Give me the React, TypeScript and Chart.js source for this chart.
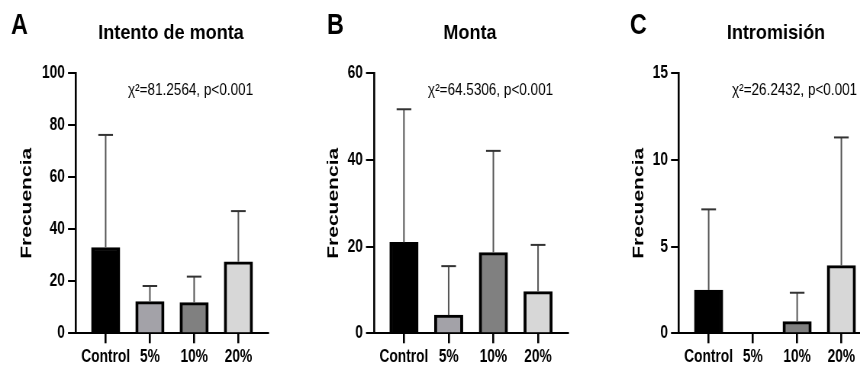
import React, { useEffect, useRef } from 'react';
import { Chart, registerables } from 'chart.js';

Chart.register(...registerables);

// ---------- data ----------
const categories = ['Control', '5%', '10%', '20%'];
const barColors = ['#000000', '#a3a2a8', '#808080', '#d7d7d7'];

const panelLetters = ['A', 'B', 'C'];
const panelTitles = ['Intento de monta', 'Monta', 'Intromisión'];
const statLabels = ['χ²=81.2564, p<0.001', 'χ²=64.5306, p<0.001', 'χ²=26.2432, p<0.001'];
const yAxisTitle = 'Frecuencia';

const intentoMeans = [33, 12.2, 11.8, 27.5];
const intentoSD = [43.3, 6, 10, 19.5];
const montaMeans = [21, 4.2, 18.6, 9.6];
const montaSD = [30.7, 11.3, 23.5, 10.8];
const intromisionMeans = [2.5, 0, 0.67, 3.9];
const intromisionSD = [4.65, 0, 1.67, 7.4];

const yMaxes = [100, 60, 15];
const yStepSizes = [20, 20, 5];

const meansList = [intentoMeans, montaMeans, intromisionMeans];
const sdList = [intentoSD, montaSD, intromisionSD];

// ---------- layout (screen px) ----------
const S = 0.763; // horizontal compression of the figure
const H = 368;
const AXIS_TOP = 73.3;
const AXIS_BOTTOM = 333.3;
const FONT = "'Liberation Sans', Arial, sans-serif";

const panels = [
  { off: 0, canvasW: 380, axisL: 76, axisR: 268, letterX: 11, titleX: 171, statX: 128, yTitleX: 27 },
  { off: 290, canvasW: 380, axisL: 374, axisR: 568, letterX: 327, titleX: 470, statX: 428, yTitleX: 334 },
  { off: 580, canvasW: 400, axisL: 679, axisR: 871, letterX: 630, titleX: 776, statX: 732, yTitleX: 639 },
];

Chart.defaults.font.family = FONT;

function drawText(ctx: CanvasRenderingContext2D, text: string, x: number, y: number, font: string, sx: number, align: CanvasTextAlign) {
  ctx.save();
  ctx.translate(x, y);
  ctx.scale(sx, 1);
  ctx.font = font;
  ctx.textAlign = align;
  ctx.textBaseline = 'alphabetic';
  ctx.fillStyle = '#000';
  ctx.fillText(text, 0, 0);
  ctx.restore();
}

const errorBarPlugin = {
  id: 'errorBars',
  afterDatasetsDraw(chart: any, _args: any, opts: any) {
    const ctx = chart.ctx as CanvasRenderingContext2D;
    const yScale = chart.scales.y;
    const sds: number[] = opts.sd || [];
    chart.data.datasets.forEach((ds: any, di: number) => {
      const meta = chart.getDatasetMeta(di);
      meta.data.forEach((el: any, i: number) => {
        const sd = sds[i];
        const v = ds.data[i].y;
        if (!sd) return;
        const yTop = yScale.getPixelForValue(v + sd);
        const yBase = yScale.getPixelForValue(v);
        ctx.save();
        ctx.strokeStyle = '#555';
        ctx.lineWidth = 2;
        ctx.beginPath();
        ctx.moveTo(el.x, yBase);
        ctx.lineTo(el.x, yTop);
        ctx.stroke();
        ctx.strokeStyle = '#333';
        ctx.lineWidth = 2;
        ctx.beginPath();
        ctx.moveTo(el.x - 9.6, yTop);
        ctx.lineTo(el.x + 9.6, yTop);
        ctx.stroke();
        ctx.restore();
      });
    });
  },
};

const annotationPlugin = {
  id: 'panelText',
  afterDraw(chart: any, _args: any, opts: any) {
    const ctx = chart.ctx as CanvasRenderingContext2D;
    const L = panels[opts.idx];
    const toI = (sx: number) => (sx - L.off) / S;
    drawText(ctx, panelLetters[opts.idx], toI(L.letterX), 33.5, `bold 29px ${FONT}`, 0.8 / S, 'left');
    drawText(ctx, panelTitles[opts.idx], toI(L.titleX), 39, `bold 21px ${FONT}`, 0.86 / S, 'center');
    drawText(ctx, statLabels[opts.idx], toI(L.statX), 94.5, `16px ${FONT}`, 0.845 / S, 'left');
  },
};

function makeConfig(idx: number): any {
  const L = panels[idx];
  const toI = (sx: number) => (sx - L.off) / S;
  const axisLeftI = toI(L.axisL);
  const axisRightI = toI(L.axisR);
  const means = meansList[idx];
  return {
    type: 'bar',
    data: {
      datasets: [
        {
          data: means.map((v, i) => ({ x: i, y: v })),
          backgroundColor: barColors,
          borderColor: '#000',
          borderWidth: { top: 3, left: 3.9, right: 3.9, bottom: 0 },
          borderSkipped: 'start',
          barThickness: 37.4,
        },
      ],
    },
    options: {
      animation: false,
      responsive: false,
      devicePixelRatio: 1,
      events: [],
      layout: { padding: { left: 0, right: L.canvasW - axisRightI, top: AXIS_TOP, bottom: 0 } },
      plugins: {
        legend: { display: false },
        tooltip: { enabled: false },
        title: { display: false },
        errorBars: { sd: sdList[idx] },
        panelText: { idx },
      },
      scales: {
        x: {
          type: 'linear',
          position: 'bottom',
          min: -0.67,
          max: 3.67,
          offset: false,
          z: 1,
          afterBuildTicks: (scale: any) => {
            scale.ticks = categories.map((_, i) => ({ value: i }));
          },
          afterFit: (scale: any) => {
            scale.height = H - AXIS_BOTTOM;
          },
          grid: { offset: false, drawOnChartArea: false, drawTicks: true, tickLength: 10, color: '#000', lineWidth: 2.6 },
          border: { display: true, color: '#000', width: 2 },
          ticks: {
            callback: (v: number) => categories[v] ?? '',
            color: '#000',
            font: { size: 18, weight: 'bold' },
            padding: 3,
            maxRotation: 0,
            autoSkip: false,
          },
        },
        y: {
          min: 0,
          max: yMaxes[idx],
          z: 1,
          afterFit: (scale: any) => {
            scale.width = axisLeftI;
          },
          grid: { drawOnChartArea: false, drawTicks: true, tickLength: 10.5, color: '#000', lineWidth: 2 },
          border: { display: true, color: '#000', width: 2.6 },
          ticks: {
            stepSize: yStepSizes[idx],
            color: '#000',
            font: { size: 18, weight: 'bold' },
            padding: 4,
          },
          title: {
            display: true,
            text: yAxisTitle,
            color: '#000',
            font: { size: 21, weight: 'bold' },
            padding: { top: toI(L.yTitleX) - 12.6, bottom: 0 },
          },
        },
      },
    },
    plugins: [errorBarPlugin, annotationPlugin],
  };
}

function Panel({ idx }: { idx: number }) {
  const ref = useRef<HTMLCanvasElement>(null);
  const L = panels[idx];
  useEffect(() => {
    if (!ref.current) return;
    const chart = new Chart(ref.current, makeConfig(idx));
    return () => chart.destroy();
  }, [idx]);
  return (
    <div
      style={{
        position: 'absolute',
        left: L.off,
        top: 0,
        width: L.canvasW,
        height: H,
        transform: `scaleX(${S})`,
        transformOrigin: '0 0',
      }}
    >
      <canvas ref={ref} width={L.canvasW} height={H} style={{ display: 'block', width: L.canvasW, height: H }} />
    </div>
  );
}

export default function App() {
  return (
    <div
      style={{
        position: 'fixed',
        left: 0,
        top: 0,
        width: 860,
        height: H,
        overflow: 'hidden',
        background: '#fff',
      }}
    >
      {panels.map((_, i) => (
        <Panel key={i} idx={i} />
      ))}
    </div>
  );
}
